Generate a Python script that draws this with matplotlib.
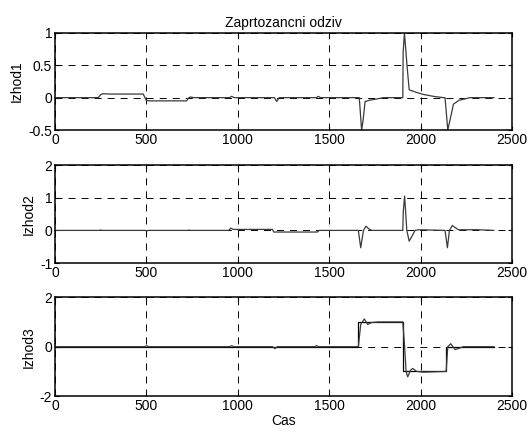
import numpy as np
import matplotlib
matplotlib.use('Agg')
import matplotlib.pyplot as plt

plt.rcParams['font.family'] = ['Liberation Sans', 'DejaVu Sans']

# izhod 1 - odziv
t1 = [0, 237, 250, 262, 300, 483, 492, 500, 520, 720, 729, 740, 760,
      955, 966, 980, 1200, 1213, 1226, 1430, 1440, 1452,
      1664, 1677, 1685, 1696, 1720, 1760, 1796,
      1902, 1904, 1911, 1925, 1937, 1978, 2014, 2069, 2124,
      2133, 2148, 2160, 2179, 2210, 2270, 2400]
y1 = [0, 0, 0.045, 0.06, 0.055, 0.055, 0.0, -0.045, -0.05, -0.05, -0.01, 0.01, 0,
      0, 0.02, 0, 0, -0.06, 0, 0, 0.02, 0,
      0, -0.5, -0.35, -0.06, -0.04, -0.02, 0,
      0, 0.7, 1.0, 0.5, 0.12, 0.08, 0.05, 0.02, 0,
      0, -0.5, -0.35, -0.1, -0.04, 0, 0]

# izhod 2 - odziv
t2 = [0, 240, 250, 260, 495, 502, 510, 725, 732, 740,
      950, 962, 975, 1190, 1196, 1205, 1425, 1435, 1445,
      1659, 1672, 1687, 1701, 1715, 1732,
      1902, 1905, 1912, 1924, 1937, 1955, 1969, 1990,
      2133, 2146, 2157, 2173, 2190, 2206, 2315, 2400]
y2 = [0, 0, 0.01, 0, 0, -0.02, 0, 0, 0.01, 0,
      0, 0.07, 0.03, 0.03, -0.05, -0.05, -0.05, -0.05, 0,
      0, -0.53, 0, 0.13, 0.05, 0,
      0, 0.6, 1.05, 0.0, -0.33, -0.15, 0, 0.02,
      0, -0.53, 0, 0.15, 0.08, 0.02, 0.02, 0]

# izhod 3 - odziv
t3 = [0, 490, 501, 512, 955, 966, 977, 1190, 1203, 1216, 1420, 1431, 1442,
      1659, 1672, 1692, 1710, 1732, 1768, 1902,
      1912, 1920, 1929, 1945, 1956, 1978, 2014, 2139,
      2148, 2164, 2188, 2215, 2233, 2400]
y3 = [0, 0, 0.04, 0, 0, 0.04, 0, 0, -0.08, 0, 0, 0.04, 0,
      0, 0.9, 1.12, 0.9, 0.98, 1.0, 1.0,
      0.0, -1.0, -1.22, -0.95, -0.88, -1.0, -1.03, -1.0,
      0.0, 0.12, -0.12, -0.05, 0, 0]

# izhod 3 - referenca
t3_ref = [0, 1659, 1659, 1902, 1902, 2139, 2139, 2400]
r3 = [0, 0, 1, 1, -1, -1, 0, 0]

ylims = [(-0.5, 1), (-1, 2), (-2, 2)]
yticks = [[-0.5, 0, 0.5, 1], [-1, 0, 1, 2], [-2, 0, 2]]
ylabels = ['Izhod1', 'Izhod2', 'Izhod3']
ytl = [['-0.5', '0', '0.5', '1'], ['-1', '0', '1', '2'], ['-2', '0', '2']]

fs = 10
fig = plt.figure(figsize=(5.28, 4.32), dpi=100)
bottoms = [0.699, 0.391, 0.083]
heights = [0.225, 0.227, 0.229]
data = [(t1, y1), (t2, y2), (t3, y3)]

for i in range(3):
    ax = fig.add_axes([0.104, bottoms[i], 0.866, heights[i]])
    if i == 2:
        ax.plot(t3_ref, r3, color='black', lw=0.9)
    ax.plot(data[i][0], data[i][1], color='#3a3a3a', lw=0.9)
    ax.set_xlim(0, 2500)
    ax.set_ylim(*ylims[i])
    ax.set_xticks([0, 500, 1000, 1500, 2000, 2500])
    ax.set_yticks(yticks[i])
    ax.set_yticklabels(ytl[i])
    ax.grid(True, color='black', linestyle=(0, (7.2, 6.2)), lw=0.7)
    ax.tick_params(direction='in', length=3, labelsize=fs, width=0.8,
                   top=True, right=True, pad=2)
    ax.set_ylabel(ylabels[i], fontsize=fs, labelpad=3)
    for s in ax.spines.values():
        s.set_linewidth(1.1)
    if i == 0:
        ax.set_title('Zaprtozancni odziv', fontsize=fs, pad=4)
    if i == 2:
        ax.set_xlabel('Cas', fontsize=fs, labelpad=1)

fig.savefig('out.png', dpi=100)
